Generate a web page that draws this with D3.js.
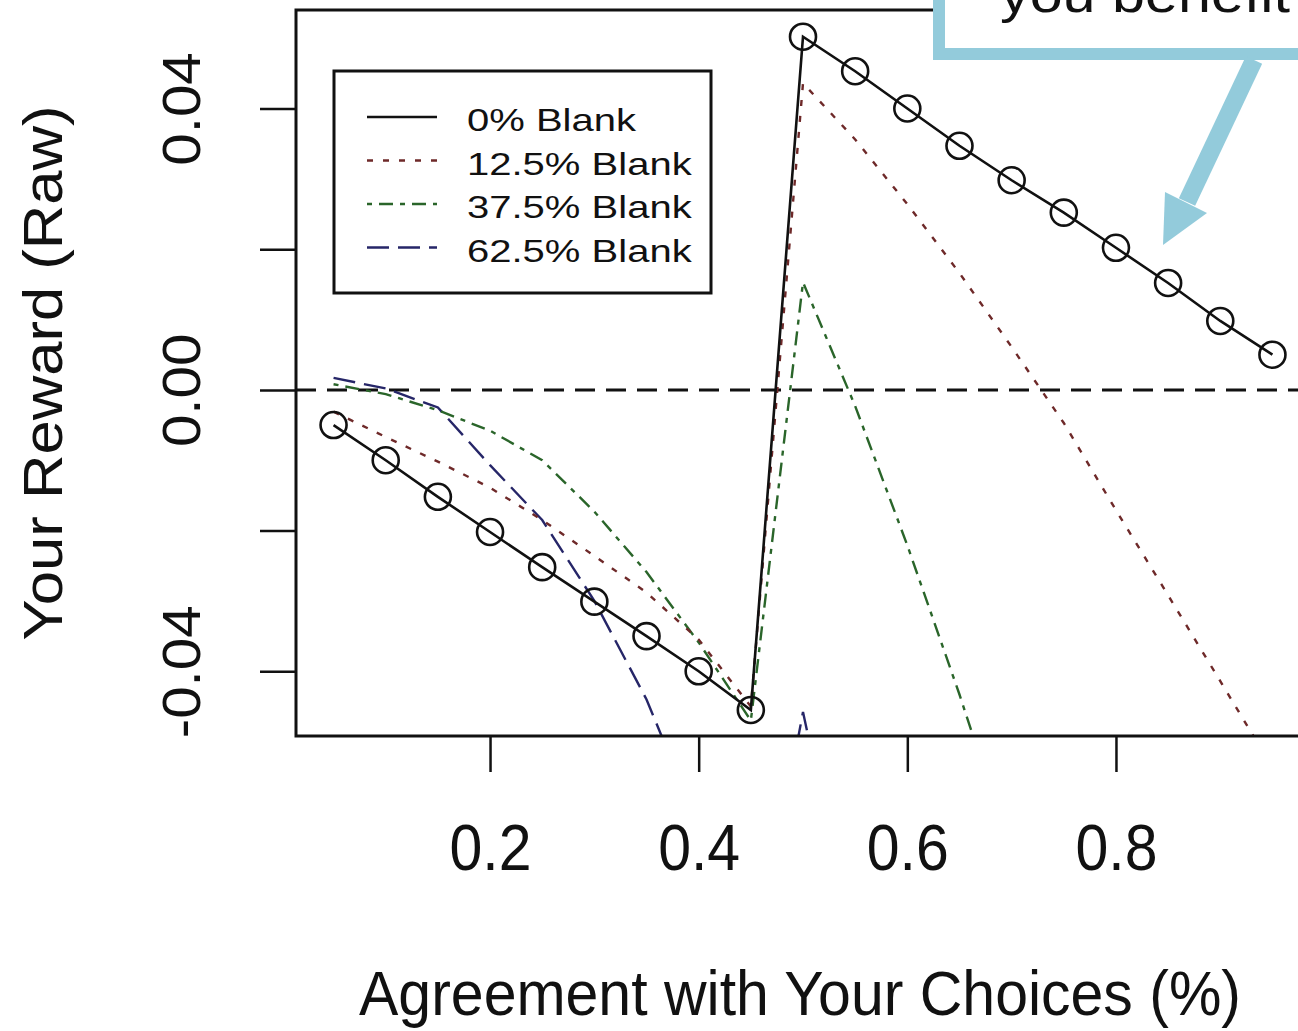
<!DOCTYPE html>
<html>
<head>
<meta charset="utf-8">
<script src="https://cdn.jsdelivr.net/npm/d3@7"></script>
<style>
  body { margin: 0; background: #fff; }
  svg { display: block; }
  text { font-family: "Liberation Sans", Arial, sans-serif; fill: #111; }
</style>
</head>
<body>
<svg id="chart" width="1298" height="1031"></svg>
<script>
// agreement levels (x)
const agree = [0.05, 0.10, 0.15, 0.20, 0.25, 0.30, 0.35, 0.40, 0.45, 0.50,
               0.55, 0.60, 0.65, 0.70, 0.75, 0.80, 0.85, 0.90, 0.95];

// reward per blank rate (null = off the chart)
const blank0  = [-0.0050, -0.0100, -0.0152, -0.0202, -0.0252, -0.0301, -0.0350, -0.0400, -0.0455,
                  0.0502, 0.0453, 0.0400, 0.0347, 0.0298, 0.0252, 0.0202, 0.0152, 0.0098, 0.0050];
const blank12 = [-0.0031, -0.0067, -0.0102, -0.0139, -0.0185, -0.0236, -0.0288, -0.0355, -0.0450,
                  0.0436, 0.0356, 0.0264, 0.0166, 0.0061, -0.0047, -0.0171, -0.0292, -0.0414, -0.0537];
const blank37 = [0.0008, -0.0006, -0.0029, -0.0058, -0.0100, -0.0173, -0.0259, -0.0359, -0.0470,
                  0.0153, -0.0023, -0.0221, -0.0433, -0.0660, null, null, null, null, null];
const blank62 = [0.0017, 0.0002, -0.0025, -0.0107, -0.0185, -0.0300, -0.0440, -0.0620, -0.0850,
                 -0.0458, -0.0800, null, null, null, null, null, null, null, null];

const seriesNames = ["0% Blank", "12.5% Blank", "37.5% Blank", "62.5% Blank"];
const seriesColors = ["#111111", "#6e2929", "#2a652a", "#262668"];
const seriesDash = [null, "6,10", "5,7,14,7", "22,9"];
const seriesValues = [blank0, blank12, blank37, blank62];

const xTicks = [0.2, 0.4, 0.6, 0.8];
const yTicks = [-0.04, -0.02, 0.00, 0.02, 0.04];
const yLabeled = [-0.04, 0.00, 0.04];

const svg = d3.select("#chart");

// plot region (right side runs off the picture)
const pLeft = 296, pTop = 10, pRight = 1310, pBottom = 736;

const x = d3.scaleLinear().domain([0.014, 0.986]).range([pLeft, pRight]);
const y = d3.scaleLinear().domain([-0.0492, 0.054]).range([pBottom, pTop]);

svg.append("defs").append("clipPath").attr("id", "plotclip")
  .append("rect")
  .attr("x", pLeft).attr("y", pTop)
  .attr("width", pRight - pLeft).attr("height", pBottom - pTop);

// zero line
svg.append("line")
  .attr("x1", pLeft).attr("x2", pRight)
  .attr("y1", y(0)).attr("y2", y(0))
  .attr("stroke", "#111").attr("stroke-width", 3)
  .attr("stroke-dasharray", "20,11");

var line = d3.line()
  .defined(function(d) { return d[1] !== null; })
  .x(function(d) { return x(d[0]); })
  .y(function(d) { return y(d[1]); });

var plot = svg.append("g").attr("clip-path", "url(#plotclip)");

// draw coloured series first, black on top
for (var s = seriesValues.length - 1; s >= 0; s--) {
  var pts = agree.map(function(a, i) { return [a, seriesValues[s][i]]; });
  plot.append("path")
    .datum(pts)
    .attr("fill", "none")
    .attr("stroke", seriesColors[s])
    .attr("stroke-width", s === 0 ? 2.6 : 2.4)
    .attr("stroke-dasharray", seriesDash[s])
    .attr("d", line);
}

plot.selectAll("circle.pt")
  .data(agree.map(function(a, i) { return [a, blank0[i]]; }))
  .enter().append("circle")
  .attr("class", "pt")
  .attr("cx", function(d) { return x(d[0]); })
  .attr("cy", function(d) { return y(d[1]); })
  .attr("r", 13)
  .attr("fill", "none")
  .attr("stroke", "#111")
  .attr("stroke-width", 2.6);

// box
svg.append("rect")
  .attr("x", pLeft).attr("y", pTop)
  .attr("width", pRight - pLeft).attr("height", pBottom - pTop)
  .attr("fill", "none").attr("stroke", "#111").attr("stroke-width", 3);

// x axis
var gx = svg.append("g")
  .attr("transform", "translate(0," + pBottom + ")")
  .call(d3.axisBottom(x).tickValues(xTicks).tickSize(36).tickFormat(function(d) { return d.toFixed(1); }));
gx.select(".domain").remove();
gx.selectAll(".tick line").attr("stroke", "#111").attr("stroke-width", 2.5);
gx.selectAll(".tick text")
  .attr("y", null).attr("dy", null)
  .attr("transform", "translate(0,134) scale(1,1.1)")
  .attr("font-size", 59)
  .attr("fill", "#111");

// y axis
var gy = svg.append("g")
  .attr("transform", "translate(" + pLeft + ",0)")
  .call(d3.axisLeft(y).tickValues(yTicks).tickSize(36)
    .tickFormat(function(d) { return yLabeled.indexOf(d) >= 0 ? d.toFixed(2) : ""; }));
gy.select(".domain").remove();
gy.selectAll(".tick line").attr("stroke", "#111").attr("stroke-width", 2.5);
gy.selectAll(".tick text")
  .attr("x", null).attr("dy", null)
  .attr("text-anchor", "middle")
  .attr("transform", "translate(-96,0) rotate(-90) scale(1.1,1)")
  .attr("font-size", 53)
  .attr("fill", "#111");

// axis titles
svg.append("text")
  .attr("text-anchor", "middle")
  .attr("transform", "translate(800,1015) scale(1,1.06)")
  .attr("font-size", 59)
  .text("Agreement with Your Choices (%)");

svg.append("text")
  .attr("text-anchor", "middle")
  .attr("transform", "translate(62," + ((pTop + pBottom) / 2) + ") rotate(-90) scale(1.1,1)")
  .attr("font-size", 56)
  .text("Your Reward (Raw)");

// legend
var lg = svg.append("g");
lg.append("rect")
  .attr("x", 334).attr("y", 71).attr("width", 377).attr("height", 222)
  .attr("fill", "#fff").attr("stroke", "#111").attr("stroke-width", 3);
seriesNames.forEach(function(name, i) {
  var ly = 117 + i * 43.5;
  lg.append("line")
    .attr("x1", 367).attr("x2", 437).attr("y1", ly).attr("y2", ly)
    .attr("stroke", seriesColors[i]).attr("stroke-width", 2.4)
    .attr("stroke-dasharray", seriesDash[i]);
  lg.append("text")
    .attr("transform", "translate(467," + (ly + 14) + ") scale(1.38,1.06)")
    .attr("font-size", 29)
    .text(name);
});

// slide callout overlay (cut off at the top)
var callColor = "#93cbdb";
svg.append("rect")
  .attr("x", 939).attr("y", -60).attr("width", 420).attr("height", 114)
  .attr("fill", "#fff").attr("stroke", callColor).attr("stroke-width", 12);
svg.append("text")
  .attr("x", 1000).attr("y", 12)
  .attr("font-family", "'Open Sans', 'Noto Sans', sans-serif")
  .attr("font-size", 52)
  .attr("textLength", 290)
  .attr("lengthAdjust", "spacingAndGlyphs")
  .attr("fill", "#000")
  .text("you benefit");
svg.append("line")
  .attr("x1", 1254).attr("y1", 60).attr("x2", 1187).attr("y2", 202)
  .attr("stroke", callColor).attr("stroke-width", 18);
svg.append("polygon")
  .attr("points", "1163,245 1165,192 1207,213")
  .attr("fill", callColor);
</script>
</body>
</html>
